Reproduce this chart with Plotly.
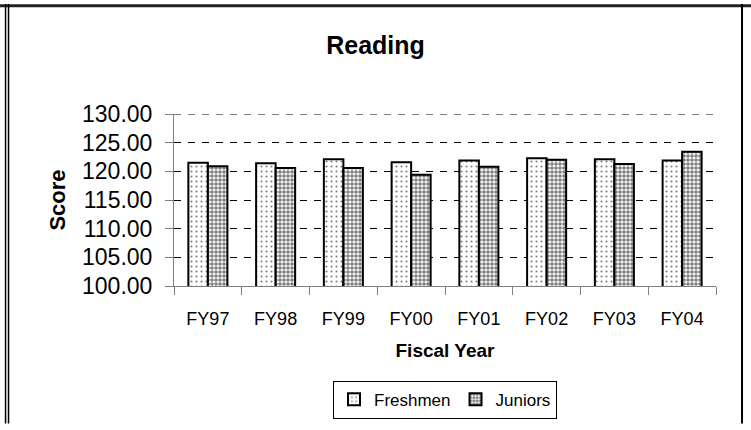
import plotly.graph_objects as go

years = ["FY97", "FY98", "FY99", "FY00", "FY01", "FY02", "FY03", "FY04"]
freshmen = [121.5, 121.4, 122.1, 121.6, 121.9, 122.3, 122.1, 121.9]
juniors = [120.9, 120.6, 120.6, 119.4, 120.8, 122.0, 121.3, 123.4]
y_ticks = [100, 105, 110, 115, 120, 125, 130]

FONT = "Liberation Sans, Arial, sans-serif"

fig = go.Figure()

fig.add_trace(
    go.Bar(
        x=years,
        y=freshmen,
        name="Freshmen",
        marker={
            "color": "white",
            "line": {"color": "black", "width": 2},
            "pattern": {"shape": ".", "fgcolor": "black", "bgcolor": "white", "size": 5, "solidity": 0.15},
        },
    )
)

fig.add_trace(
    go.Bar(
        x=years,
        y=juniors,
        name="Juniors",
        marker={
            "color": "white",
            "line": {"color": "black", "width": 2},
            "pattern": {"shape": ".", "fgcolor": "black", "bgcolor": "white", "size": 4, "solidity": 0.65},
        },
    )
)

# top gridline sits on the range edge, plotly skips it
fig.add_hline(y=y_ticks[-1], line={"color": "black", "width": 1, "dash": "7px,7px"}, layer="below")

# outer frame of the chart object
frame = {"color": "black", "width": 1.5}
fig.add_shape(type="line", xref="paper", yref="paper", x0=-0.33, x1=1.07, y0=1.63, y1=1.63,
              line={"color": "#222", "width": 3})
fig.add_shape(type="line", xref="paper", yref="paper", x0=-0.3108, x1=-0.3108, y0=-0.8, y1=1.64, line=frame)
fig.add_shape(type="line", xref="paper", yref="paper", x0=-0.3053, x1=-0.3053, y0=-0.8, y1=1.64, line=frame)
fig.add_shape(type="line", xref="paper", yref="paper", x0=1.0480, x1=1.0480, y0=-0.8, y1=1.64,
              line={"color": "black", "width": 2})

fig.update_layout(
    width=751,
    height=430,
    margin={"l": 174, "r": 35, "t": 114, "b": 140},
    paper_bgcolor="white",
    plot_bgcolor="white",
    font={"family": FONT, "color": "black"},
    barmode="group",
    bargap=0.424,
    bargroupgap=0,
    title={
        "text": "<b>Reading</b>",
        "font": {"size": 25, "family": FONT, "color": "black"},
        "x": 0.5,
        "xanchor": "center",
        "y": 0.895,
        "yanchor": "middle",
    },
    showlegend=True,
    legend={
        "orientation": "h",
        "x": 0.5,
        "xanchor": "center",
        "y": -0.551,
        "yanchor": "top",
        "bordercolor": "black",
        "borderwidth": 1,
        "font": {"size": 17, "family": FONT},
        "itemwidth": 30,
    },
    xaxis={
        "title": {"text": "<b>Fiscal Year</b>", "font": {"size": 19}, "standoff": 16},
        "tickfont": {"size": 18},
        "ticklabelstandoff": 16,
        "showline": True,
        "linecolor": "#808080",
        "linewidth": 1,
        "ticks": "outside",
        "tickson": "boundaries",
        "ticklen": 8,
        "tickcolor": "#808080",
        "showgrid": False,
    },
    yaxis={
        "title": {"text": "<b>Score</b>", "font": {"size": 22}, "standoff": 10},
        "range": [100, 130],
        "tickvals": y_ticks,
        "tickformat": ".2f",
        "tickfont": {"size": 23},
        "ticklabelstandoff": 8,
        "showline": True,
        "linecolor": "#808080",
        "linewidth": 1,
        "ticks": "outside",
        "ticklen": 8,
        "tickcolor": "#808080",
        "showgrid": True,
        "gridcolor": "black",
        "gridwidth": 1,
        "griddash": "7px,7px",
        "zeroline": False,
    },
)

fig.write_html(
    "out.html",
    config={"displayModeBar": False},
    post_script="document.body.style.margin='0'; document.body.style.overflow='hidden';",
)
